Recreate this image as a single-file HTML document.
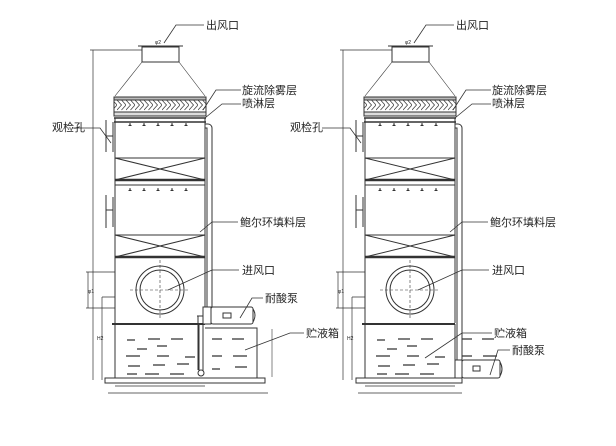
<!DOCTYPE html>
<html><head><meta charset="utf-8"><style>
html,body{margin:0;padding:0;background:#fff;width:616px;height:446px;overflow:hidden}
text{font-family:"Liberation Sans","Noto Sans CJK SC",sans-serif;font-size:11px;fill:#222}
</style></head><body>
<svg width="616" height="446" viewBox="0 0 616 446" xmlns="http://www.w3.org/2000/svg">
<defs>
<pattern id="chev" width="9" height="14" patternUnits="userSpaceOnUse">
<polyline points="0,2 4.5,7 0,12" fill="none" stroke="#444" stroke-width="0.8"/>
<polyline points="4.5,2 9,7 4.5,12" fill="none" stroke="#444" stroke-width="0.8"/>
</pattern>
<g id="unit" stroke="#333" fill="none" stroke-width="1">
<!-- cap -->
<rect x="142" y="47" width="37" height="15" fill="#fff"/>
<line x1="138" y1="46" x2="183" y2="46"/>
<text x="155" y="44" style="font-size:5px" stroke="none">φ2</text>
<line x1="142" y1="62" x2="115" y2="96" stroke-width="0.6"/>
<line x1="179" y1="62" x2="205" y2="96" stroke-width="0.6"/>
<!-- demister -->
<rect x="114" y="97" width="92" height="3" fill="#bbb"/>
<rect x="114" y="100" width="92" height="12" fill="url(#chev)"/>
<rect x="114" y="112" width="92" height="4" fill="#ddd"/>
<line x1="114" y1="118" x2="206" y2="118" stroke-width="1.5"/>
<!-- body -->
<line x1="115" y1="118" x2="115" y2="378"/>
<line x1="205" y1="118" x2="205" y2="323"/>
<line x1="114" y1="122" x2="206" y2="122" stroke-width="1.5"/>
<!-- nozzles -->
<g stroke-width="1"><path d="M130 123v3M144 123v3M158 123v3M172 123v3M186 123v3M130 188v3M144 188v3M158 188v3M172 188v3M186 188v3"/></g>
<g fill="#333" stroke="none"><path d="M128 126h4l-2 -2zM142 126h4l-2 -2zM156 126h4l-2 -2zM170 126h4l-2 -2zM184 126h4l-2 -2zM128 191h4l-2 -2zM142 191h4l-2 -2zM156 191h4l-2 -2zM170 191h4l-2 -2zM184 191h4l-2 -2z"/></g>
<!-- packing 1 -->
<rect x="115" y="158" width="90" height="22"/>
<path d="M115 158L205 180M205 158L115 180"/>
<line x1="115" y1="180" x2="205" y2="180" stroke-width="2.5"/>
<line x1="115" y1="185" x2="205" y2="185"/>
<!-- packing 2 -->
<rect x="115" y="235" width="90" height="22"/>
<path d="M115 235L205 257M205 235L115 257"/>
<line x1="115" y1="257" x2="205" y2="257" stroke-width="2.5"/>
<!-- inspection ports -->
<path d="M113 122v30M106 120v32M106 136h7"/>
<path d="M113 197v30M106 195v33M106 210h7"/>
<!-- inlet -->
<circle cx="160" cy="290" r="24"/>
<circle cx="160" cy="290" r="20"/>
<path d="M130 290h60M160 260v60" stroke-dasharray="3,2" stroke-width="0.6"/>
<!-- dims -->
<path d="M93 50v330M90 50h52" stroke-width="0.7"/>
<path d="M86 272h29M86 308h29M88 272v36" stroke-width="0.7"/>
<path d="M102 297v83M102 297h13" stroke-width="0.7"/>
<text x="97" y="340" style="font-size:5px" stroke="none">H2</text>
<text x="88" y="293" style="font-size:5px" stroke="none">φ1</text>
<!-- tank top -->
<line x1="112" y1="324" x2="205" y2="324" stroke-width="2"/>
<line x1="115" y1="378" x2="205" y2="378"/>
<!-- liquid dashes -->
<g stroke-width="1.2"><path d="M127 340h8M148 339h12M171 339h12M137 349h10M157 346h10M126 356h14M157 356h12M185 357h10M128 366h12M153 365h12M177 364h12M127 374h10M145 374h14M170 374h14M212 339h10M232 339h12M212 356h10M233 356h14M212 369h8M235 367h12"/></g>
</g>
</defs>

<use href="#unit"/>
<use href="#unit" transform="translate(250,0)"/>

<g stroke="#333" fill="none" stroke-width="1">
<!-- left unit extras -->
<path d="M205 124h3a4 4 0 0 1 4 4v180M205 128h2v180" />
<rect x="203" y="307" width="8" height="17" fill="#fff"/>
<rect x="211" y="307" width="42" height="17" rx="2" fill="#fff"/>
<path d="M253 309q4 6 0 13"/>
<rect x="223" y="313" width="8" height="5"/>
<path d="M203 316h-5v54M198 316h-1"/>
<path d="M199 324v50M203 324v50"/>
<circle cx="201" cy="373" r="3" fill="#fff"/>
<path d="M205 328h52v50H205"/>
<rect x="105" y="378" width="160" height="5"/>
<path d="M115 386h90M108 393h160" stroke-width="0.7"/>
<path d="M272 329v48" stroke-width="0.6"/>
<!-- right unit extras -->
<path d="M455 124h3a4 4 0 0 1 4 4v232M455 128h2v232"/>
<rect x="455" y="360" width="7" height="18" fill="#fff"/>
<rect x="462" y="360" width="38" height="18" rx="2" fill="#fff"/>
<path d="M500 362q4 7 0 14"/>
<rect x="473" y="366" width="7" height="5"/>
<path d="M455 324v54"/>
<rect x="356" y="378" width="106" height="5"/>
<path d="M365 386h90M358 393h104" stroke-width="0.7"/>
<!-- leader lines -->
<g stroke-width="0.8">
<path d="M164 43L176 25h28M414 43L426 25h28"/>
<path d="M203 110L216 90h25M205 118L222 104h19M453 110L466 90h25M455 118L472 104h19"/>
<path d="M111 143L100 128h-28M361 143L350 128h-28"/>
<path d="M200 232L212 222h26M450 232L462 222h26"/>
<path d="M168 290L212 270h27M418 290L462 270h27"/>
<path d="M240 318L252 298h11"/>
<path d="M245 350L290 333h14M425 358L462 333h30"/>
<path d="M490 375L498 350h12"/>
</g>
</g>
<text x="206" y="29">出风口</text><text x="456" y="29">出风口</text>
<text x="242" y="94">旋流除雾层</text><text x="242" y="107">喷淋层</text>
<text x="492" y="94">旋流除雾层</text><text x="492" y="107">喷淋层</text>
<text x="52" y="131">观检孔</text><text x="290" y="131">观检孔</text>
<text x="240" y="226">鲍尔环填料层</text><text x="490" y="226">鲍尔环填料层</text>
<text x="242" y="274">进风口</text><text x="492" y="274">进风口</text>
<text x="265" y="302">耐酸泵</text>
<text x="306" y="337">贮液箱</text>
<text x="494" y="337">贮液箱</text>
<text x="512" y="354">耐酸泵</text>
</svg>
</body></html>
